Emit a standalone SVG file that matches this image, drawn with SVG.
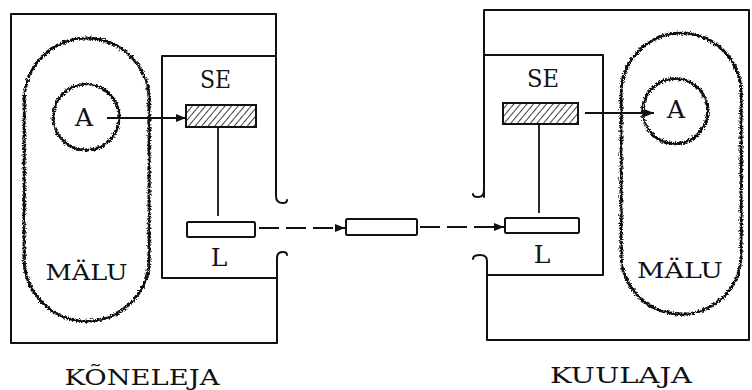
<svg xmlns="http://www.w3.org/2000/svg" width="752" height="390" viewBox="0 0 752 390">
  <defs>
    <style>
      .frame { fill: none; stroke: #111; stroke-width: 2; stroke-linecap: round; stroke-linejoin: round; }
      .box { fill: #fff; stroke: #111; stroke-width: 2; }
      .wavy { fill: none; stroke: #111; stroke-width: 2.6; filter: url(#wobble); }
      .bead { fill: none; stroke: #111; stroke-width: 3.4; stroke-linecap: round; stroke-dasharray: 0 4.6; filter: url(#wobble); }
      .line { fill: none; stroke: #111; stroke-width: 1.8; }
      .dash { fill: none; stroke: #111; stroke-width: 1.8; stroke-dasharray: 20 7; }
      .lbl { font-family: "DejaVu Serif", "Liberation Serif", serif; fill: #111; text-anchor: middle; }
    </style>
    <filter id="wobble" x="-10%" y="-10%" width="120%" height="120%">
      <feTurbulence type="turbulence" baseFrequency="0.4" numOctaves="1" seed="4" result="noise"/>
      <feDisplacementMap in="SourceGraphic" in2="noise" scale="3.5" xChannelSelector="R" yChannelSelector="G"/>
    </filter>
    <pattern id="hatch" patternUnits="userSpaceOnUse" width="5" height="5" patternTransform="rotate(40)">
      <rect width="5" height="5" fill="#fff"/>
      <line x1="0" y1="0" x2="0" y2="5" stroke="#111" stroke-width="1.6"/>
    </pattern>
    <marker id="head" viewBox="0 0 10 10" refX="10" refY="5" markerWidth="12" markerHeight="10" markerUnits="userSpaceOnUse" orient="auto">
      <path d="M0,1 L10,5 L0,9 Z" fill="#111"/>
    </marker>
  </defs>

  <!-- sender (left) -->
  <g id="sender">
    <path class="frame" d="M276,14 L11,14 L11,343 L277,343 L277,258 Q277,252 283,252 Q287,252 287,255"/>
    <path class="frame" d="M276,14 L276,196 Q276,203 283,203 Q287,203 287,200"/>
    <path class="frame" d="M276,56 L162,56 L162,278 L277,278"/>
  </g>
  <g id="sender-memory">
    <rect class="wavy" x="23" y="37" width="125" height="283" rx="62.5" ry="62.5"/>
    <rect class="bead" x="23" y="37" width="125" height="283" rx="62.5" ry="62.5"/>
    <circle class="wavy" cx="85" cy="116" r="33"/>
    <circle class="bead" cx="85" cy="116" r="33"/>
    <text class="lbl" x="84" y="126" font-size="25">A</text>
    <text class="lbl" x="86.5" y="280" font-size="23" textLength="82" lengthAdjust="spacingAndGlyphs">MÄLU</text>
  </g>
  <g id="sender-se">
    <text class="lbl" x="215.5" y="88" font-size="24" textLength="31" lengthAdjust="spacingAndGlyphs">SE</text>
    <rect x="186" y="105" width="70" height="22" fill="url(#hatch)" stroke="#111" stroke-width="2"/>
  </g>
  <g id="sender-l">
    <rect class="box" x="187" y="222" width="68" height="15" rx="1.5"/>
    <text class="lbl" x="219" y="266" font-size="25">L</text>
  </g>
  <text class="lbl" x="142" y="385" font-size="22" textLength="155" lengthAdjust="spacingAndGlyphs">KÕNELEJA</text>

  <!-- message in transit -->
  <g id="message">
    <rect class="box" x="346" y="219" width="71" height="16" rx="1.5"/>
  </g>

  <!-- receiver (right) -->
  <g id="receiver">
    <path class="frame" d="M484,197 L484,10 L749,10 L749,340 L487,340 L487,261 Q487,255 480,255 Q473,255 473,259"/>
    <path class="frame" d="M484,190 Q484,197 478,197 Q473,197 473,194"/>
    <path class="frame" d="M484,55 L603,55 L603,275 L487,275"/>
  </g>
  <g id="receiver-memory">
    <rect class="wavy" x="620" y="32" width="120" height="281" rx="60" ry="60"/>
    <rect class="bead" x="620" y="32" width="120" height="281" rx="60" ry="60"/>
    <circle class="wavy" cx="674" cy="110" r="32.5"/>
    <circle class="bead" cx="674" cy="110" r="32.5"/>
    <text class="lbl" x="676" y="118" font-size="25">A</text>
    <text class="lbl" x="680" y="278" font-size="23" textLength="86" lengthAdjust="spacingAndGlyphs">MÄLU</text>
  </g>
  <g id="receiver-se">
    <text class="lbl" x="543" y="87" font-size="24" textLength="32" lengthAdjust="spacingAndGlyphs">SE</text>
    <rect x="503" y="103" width="75" height="21" fill="url(#hatch)" stroke="#111" stroke-width="2"/>
  </g>
  <g id="receiver-l">
    <rect class="box" x="505" y="218" width="74" height="15" rx="1.5"/>
    <text class="lbl" x="542" y="263" font-size="25">L</text>
  </g>
  <text class="lbl" x="621" y="383" font-size="22" textLength="142" lengthAdjust="spacingAndGlyphs">KUULAJA</text>

  <!-- connectors -->
  <g id="connectors">
    <line class="line" x1="107" y1="118" x2="186" y2="118" marker-end="url(#head)"/>
    <line class="line" x1="218" y1="127" x2="218" y2="216"/>
    <line class="dash" x1="259" y1="228" x2="345" y2="228" marker-end="url(#head)"/>
    <line class="dash" x1="420" y1="227" x2="504" y2="227" marker-end="url(#head)"/>
    <line class="line" x1="539" y1="124" x2="539" y2="213"/>
    <line class="line" x1="585" y1="113" x2="654" y2="113" marker-end="url(#head)"/>
  </g>
</svg>
